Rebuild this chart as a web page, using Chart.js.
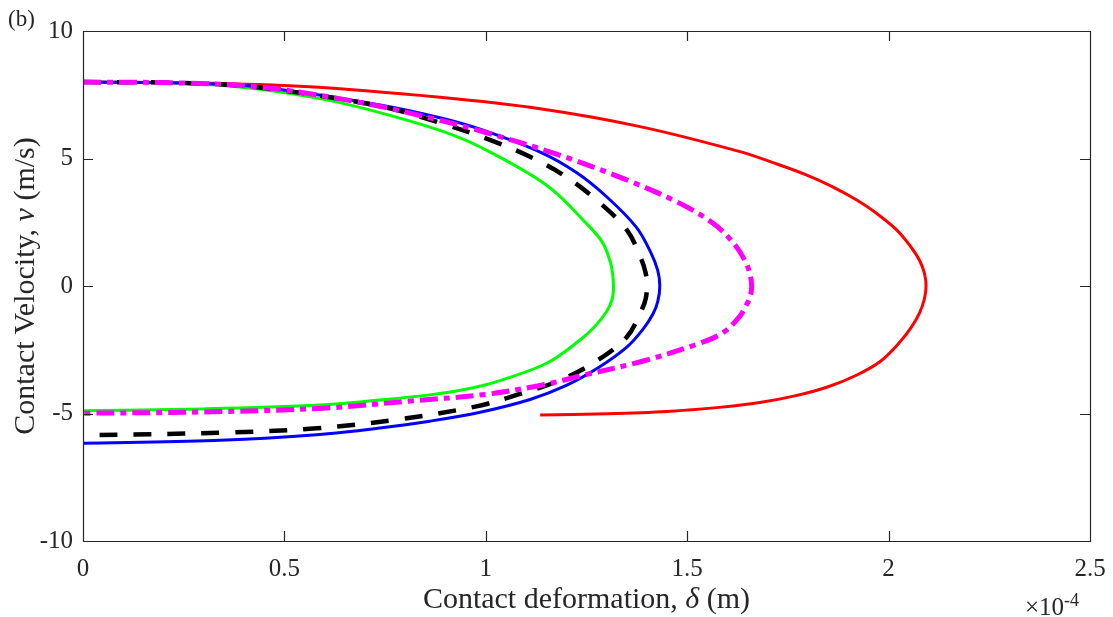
<!DOCTYPE html>
<html>
<head>
<meta charset="utf-8">
<script src="https://cdn.jsdelivr.net/npm/chart.js@4"></script>
<style>
  body { margin: 0; background: #fff; }
  #wrap { position: relative; width: 1113px; height: 617px; font-family: "Liberation Serif", "Times New Roman", serif; color: #262626; }
  #wrap canvas { position: absolute; left: 0; top: 0; }
  .lbl { position: absolute; white-space: nowrap; }
</style>
</head>
<body>
<div id="wrap">
  <canvas id="chart" width="1113" height="617"></canvas>
  <div class="lbl" style="left:8px; top:6px; font-size:23px;">(b)</div>
  <div class="lbl" style="left:-176px; top:269px; width:400px; text-align:center; font-size:30px; line-height:34px; transform:rotate(-90deg);">Contact Velocity, <i>v</i> (m/s)</div>
  <div class="lbl" style="left:83px; top:581px; width:1007px; text-align:center; font-size:30px; line-height:34px;">Contact deformation, <i>δ</i> (m)</div>
  <div class="lbl" style="left:1025px; top:586px; font-size:25px; line-height:28px;">×10<sup style="font-size:18px;">-4</sup></div>
</div>
<script>
// deformation in units of 1e-4 m, velocity in m/s
const xTicks = [0, 0.5, 1, 1.5, 2, 2.5];
const yTicks = [-10, -5, 0, 5, 10];

const redX = [0, 0.25, 0.55, 0.886, 1.135, 1.383, 1.631, 1.72, 1.797, 1.86, 1.921, 1.97, 2.02, 2.057, 2.077, 2.089, 2.093, 2.089, 2.077, 2.057, 2.028, 1.98, 1.92, 1.85, 1.77, 1.68, 1.58, 1.45, 1.3, 1.135];
const redV = [8, 7.97, 7.82, 7.4, 6.95, 6.25, 5.27, 4.8, 4.35, 3.9, 3.37, 2.85, 2.2, 1.5, 1.0, 0.5, 0, -0.5, -1.05, -1.6, -2.2, -2.95, -3.5, -3.95, -4.3, -4.57, -4.76, -4.92, -5.01, -5.06];

const magX = [0, 0.25, 0.44, 0.688, 0.886, 1.0, 1.176, 1.35, 1.482, 1.565, 1.614, 1.645, 1.656, 1.66, 1.656, 1.645, 1.631, 1.589, 1.523, 1.391, 1.242, 1.135, 1.0, 0.82, 0.588, 0.3, 0];
const magV = [8, 7.96, 7.8, 7.2, 6.5, 6.02, 5.17, 4.16, 3.24, 2.45, 1.7, 0.95, 0.45, 0, -0.45, -0.8, -1.18, -1.83, -2.29, -2.94, -3.5, -3.9, -4.25, -4.5, -4.8, -4.94, -4.99];

const blueX = [0, 0.25, 0.44, 0.737, 0.886, 0.986, 1.135, 1.225, 1.30, 1.374, 1.41, 1.427, 1.432, 1.427, 1.415, 1.39, 1.35, 1.28, 1.2, 1.11, 0.986, 0.861, 0.737, 0.588, 0.324, 0];
const blueV = [8, 7.96, 7.8, 7.1, 6.6, 6.15, 5.25, 4.45, 3.5, 2.3, 1.3, 0.6, 0, -0.6, -1.1, -1.7, -2.4, -3.2, -3.9, -4.45, -4.95, -5.3, -5.57, -5.82, -6.06, -6.17];

const blackX = [0, 0.25, 0.44, 0.737, 0.886, 1.01, 1.11, 1.193, 1.275, 1.35, 1.385, 1.397, 1.40, 1.397, 1.388, 1.35, 1.266, 1.176, 1.077, 0.977, 0.779, 0.58, 0.372, 0];
const blackV = [8, 7.96, 7.78, 7.05, 6.4, 5.73, 5.07, 4.35, 3.37, 2.2, 1.1, 0.5, 0, -0.5, -0.9, -2.0, -3.03, -3.75, -4.27, -4.72, -5.24, -5.58, -5.74, -5.86];

const greenX = [0, 0.25, 0.44, 0.605, 0.737, 0.886, 0.986, 1.151, 1.25, 1.29, 1.31, 1.315, 1.317, 1.314, 1.30, 1.27, 1.234, 1.151, 1.027, 0.95, 0.861, 0.737, 0.588, 0.3, 0];
const greenV = [8, 7.95, 7.72, 7.3, 6.8, 6.1, 5.45, 3.95, 2.45, 1.7, 0.9, 0.45, 0, -0.5, -1.0, -1.6, -2.12, -3.03, -3.75, -4.05, -4.27, -4.47, -4.67, -4.82, -4.89];

function pts(xs, vs) {
  return xs.map((x, i) => ({ x: x, y: vs[i] }));
}

function line(data, color, width, dash, order) {
  return {
    data: data,
    showLine: true,
    borderColor: color,
    backgroundColor: color,
    borderWidth: width,
    borderDash: dash,
    pointRadius: 0,
    tension: 0.35,
    fill: false,
    order: order
  };
}

// box around the axes with inward ticks on all four sides
const frameTicks = {
  id: 'frameTicks',
  afterDraw(chart) {
    const { ctx, chartArea: a, scales } = chart;
    const len = 10;
    ctx.save();
    ctx.strokeStyle = '#262626';
    ctx.lineWidth = 1.2;
    ctx.beginPath();
    scales.x.ticks.forEach(t => {
      const px = Math.round(scales.x.getPixelForValue(t.value)) + 0.5;
      ctx.moveTo(px, a.bottom); ctx.lineTo(px, a.bottom - len);
      ctx.moveTo(px, a.top); ctx.lineTo(px, a.top + len);
    });
    scales.y.ticks.forEach(t => {
      const py = Math.round(scales.y.getPixelForValue(t.value)) + 0.5;
      ctx.moveTo(a.left, py); ctx.lineTo(a.left + len, py);
      ctx.moveTo(a.right, py); ctx.lineTo(a.right - len, py);
    });
    ctx.rect(a.left + 0.5, a.top + 0.5, a.right - a.left, a.bottom - a.top);
    ctx.stroke();
    ctx.restore();
  }
};

const tickFont = { family: '"Liberation Serif", "Times New Roman", serif', size: 25 };

new Chart(document.getElementById('chart'), {
  type: 'scatter',
  data: {
    datasets: [
      line(pts(redX, redV), '#ff0000', 3, [], 4),
      line(pts(greenX, greenV), '#00ff00', 3, [], 3),
      line(pts(blueX, blueV), '#0000ff', 3, [], 2),
      line(pts(blackX, blackV), '#000000', 4.5, [18, 16], 1),
      line(pts(magX, magV), '#ff00ff', 5, [18, 6, 6, 6], 0)
    ]
  },
  options: {
    responsive: false,
    animation: false,
    layout: { padding: { left: 0, top: 31, right: 23, bottom: 0 } },
    plugins: { legend: { display: false }, tooltip: { enabled: false } },
    scales: {
      x: {
        type: 'linear',
        min: 0,
        max: 2.5,
        afterFit: s => { s.height = 76; s.paddingLeft = 0; s.paddingRight = 0; },
        afterBuildTicks: s => { s.ticks = xTicks.map(v => ({ value: v })); },
        grid: { display: false, drawTicks: false },
        border: { display: false },
        ticks: { padding: 13, color: '#262626', font: tickFont, maxRotation: 0, callback: v => String(v) }
      },
      y: {
        type: 'linear',
        min: -10,
        max: 10,
        afterFit: s => { s.width = 83; s.paddingTop = 0; s.paddingBottom = 0; },
        afterBuildTicks: s => { s.ticks = yTicks.map(v => ({ value: v })); },
        grid: { display: false, drawTicks: false },
        border: { display: false },
        ticks: { padding: 10, color: '#262626', font: tickFont, callback: v => String(v) }
      }
    }
  },
  plugins: [frameTicks]
});
</script>
</body>
</html>
